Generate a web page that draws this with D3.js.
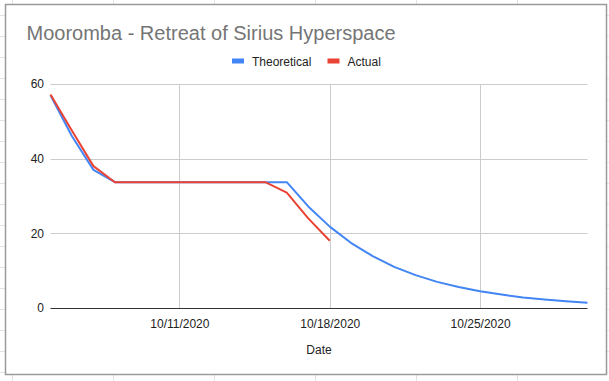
<!DOCTYPE html>
<html>
<head>
<meta charset="utf-8">
<script src="https://cdn.jsdelivr.net/npm/d3@7"></script>
<style>
  html, body { margin: 0; padding: 0; background: #fff; }
  svg { display: block; font-family: "Liberation Sans", Arial, sans-serif; }
</style>
</head>
<body>
<svg id="chart" width="609" height="381"></svg>
<script>
// ---- data ----
const dates = ["2020-10-05","2020-10-06","2020-10-07","2020-10-08","2020-10-09","2020-10-10",
  "2020-10-11","2020-10-12","2020-10-13","2020-10-14","2020-10-15","2020-10-16","2020-10-17",
  "2020-10-18","2020-10-19","2020-10-20","2020-10-21","2020-10-22","2020-10-23","2020-10-24",
  "2020-10-25","2020-10-26","2020-10-27","2020-10-28","2020-10-29","2020-10-30"];
const theoretical = [57, 46, 37, 33.7, 33.7, 33.7, 33.7, 33.7, 33.7, 33.7, 33.7, 33.7,
  27.2, 21.8, 17.4, 13.9, 11.0, 8.8, 7.0, 5.6, 4.5, 3.6, 2.8, 2.3, 1.8, 1.4];
const actual = [57.2, 47.5, 38, 33.7, 33.7, 33.7, 33.7, 33.7, 33.7, 33.7, 33.7, 30.9, 24.0, 18.0];
const seriesNames = ["Theoretical", "Actual"];
const xTickDates = ["2020-10-11", "2020-10-18", "2020-10-25"];
const yTicks = [0, 20, 40, 60];
const titleText = "Mooromba - Retreat of Sirius Hyperspace";
const xAxisTitle = "Date";

// ---- setup ----
const W = 609, H = 381;
const svg = d3.select("#chart");
const parse = d3.utcParse("%Y-%m-%d");
const fmt = d3.utcFormat("%m/%d/%Y");
const colors = ["#4285f4", "#ea4335"];

// spreadsheet background grid
const bg = svg.append("g");
bg.append("rect").attr("width", W).attr("height", H).attr("fill", "#fff");
const cols = d3.range(12, W, 101);
const rows = d3.range(-6, H, 21);
bg.selectAll("line.c").data(cols).join("line")
  .attr("x1", d => d + 0.5).attr("x2", d => d + 0.5).attr("y1", 0).attr("y2", H)
  .attr("stroke", "#e2e3e3").attr("stroke-width", 1);
bg.selectAll("line.r").data(rows).join("line")
  .attr("y1", d => d + 0.5).attr("y2", d => d + 0.5).attr("x1", 0).attr("x2", W)
  .attr("stroke", "#e2e3e3").attr("stroke-width", 1);

// chart frame
svg.append("rect")
  .attr("x", 5.5).attr("y", 4.5).attr("width", 601).attr("height", 370)
  .attr("fill", "#fff").attr("stroke", "#9a9a9a").attr("stroke-width", 1.5);

// scales
const x = d3.scaleUtc()
  .domain([parse(dates[0]), parse(dates[dates.length - 1])])
  .range([50.5, 587.5]);
const y = d3.scaleLinear().domain([0, 60]).range([308, 84]);

// title
svg.append("text")
  .attr("x", 26.5).attr("y", 40)
  .attr("font-size", 20).attr("fill", "#757575")
  .text(titleText);

// legend
const legend = svg.append("g");
const legendItems = [{x: 232, name: seriesNames[0], c: colors[0]}, {x: 327.5, name: seriesNames[1], c: colors[1]}];
legendItems.forEach(it => {
  legend.append("rect").attr("x", it.x).attr("y", 58.5).attr("width", 12).attr("height", 5)
    .attr("fill", it.c);
  legend.append("text").attr("x", it.x + 20).attr("y", 65.5)
    .attr("font-size", 12).attr("fill", "#222").text(it.name);
});

// gridlines
const grid = svg.append("g");
grid.selectAll("line.h").data(yTicks.filter(d => d !== 0)).join("line")
  .attr("x1", x.range()[0]).attr("x2", x.range()[1])
  .attr("y1", d => Math.round(y(d)) + 0.5).attr("y2", d => Math.round(y(d)) + 0.5)
  .attr("stroke", "#cccccc");
grid.selectAll("line.v").data(xTickDates.map(parse)).join("line")
  .attr("x1", d => Math.round(x(d)) + 0.5).attr("x2", d => Math.round(x(d)) + 0.5)
  .attr("y1", y(60)).attr("y2", y(0))
  .attr("stroke", "#cccccc");

// x axis
const xAxis = d3.axisBottom(x)
  .tickValues(xTickDates.map(parse))
  .tickFormat(fmt)
  .tickSize(0).tickPadding(11);
const gx = svg.append("g").attr("transform", `translate(0,${y(0)})`).call(xAxis);
gx.select(".domain").remove();
gx.selectAll("text").attr("font-size", 12).attr("fill", "#222")
  .attr("font-family", '"Liberation Sans", Arial, sans-serif');

// y axis
const yAxis = d3.axisLeft(y).tickValues(yTicks).tickFormat(d3.format("d")).tickSize(0).tickPadding(6.5);
const gy = svg.append("g").attr("transform", `translate(${x.range()[0]},0)`).call(yAxis);
gy.select(".domain").remove();
gy.selectAll("text").attr("font-size", 12).attr("fill", "#222")
  .attr("font-family", '"Liberation Sans", Arial, sans-serif');

// baseline
svg.append("line")
  .attr("x1", x.range()[0]).attr("x2", x.range()[1])
  .attr("y1", Math.round(y(0)) + 0.5).attr("y2", Math.round(y(0)) + 0.5)
  .attr("stroke", "#333").attr("stroke-width", 1);

// x axis title
svg.append("text")
  .attr("x", (x.range()[0] + x.range()[1]) / 2).attr("y", 354)
  .attr("text-anchor", "middle").attr("font-size", 12).attr("fill", "#222")
  .text(xAxisTitle);

// lines
const line = d3.line().x(d => x(d.date)).y(d => y(d.v));
const seriesData = [theoretical, actual].map(arr => arr.map((v, i) => ({date: parse(dates[i]), v})));
seriesData.forEach((s, i) => {
  svg.append("path").datum(s)
    .attr("d", line)
    .attr("fill", "none")
    .attr("stroke", colors[i])
    .attr("stroke-width", 2)
    .attr("stroke-linejoin", "round");
});
</script>
</body>
</html>
